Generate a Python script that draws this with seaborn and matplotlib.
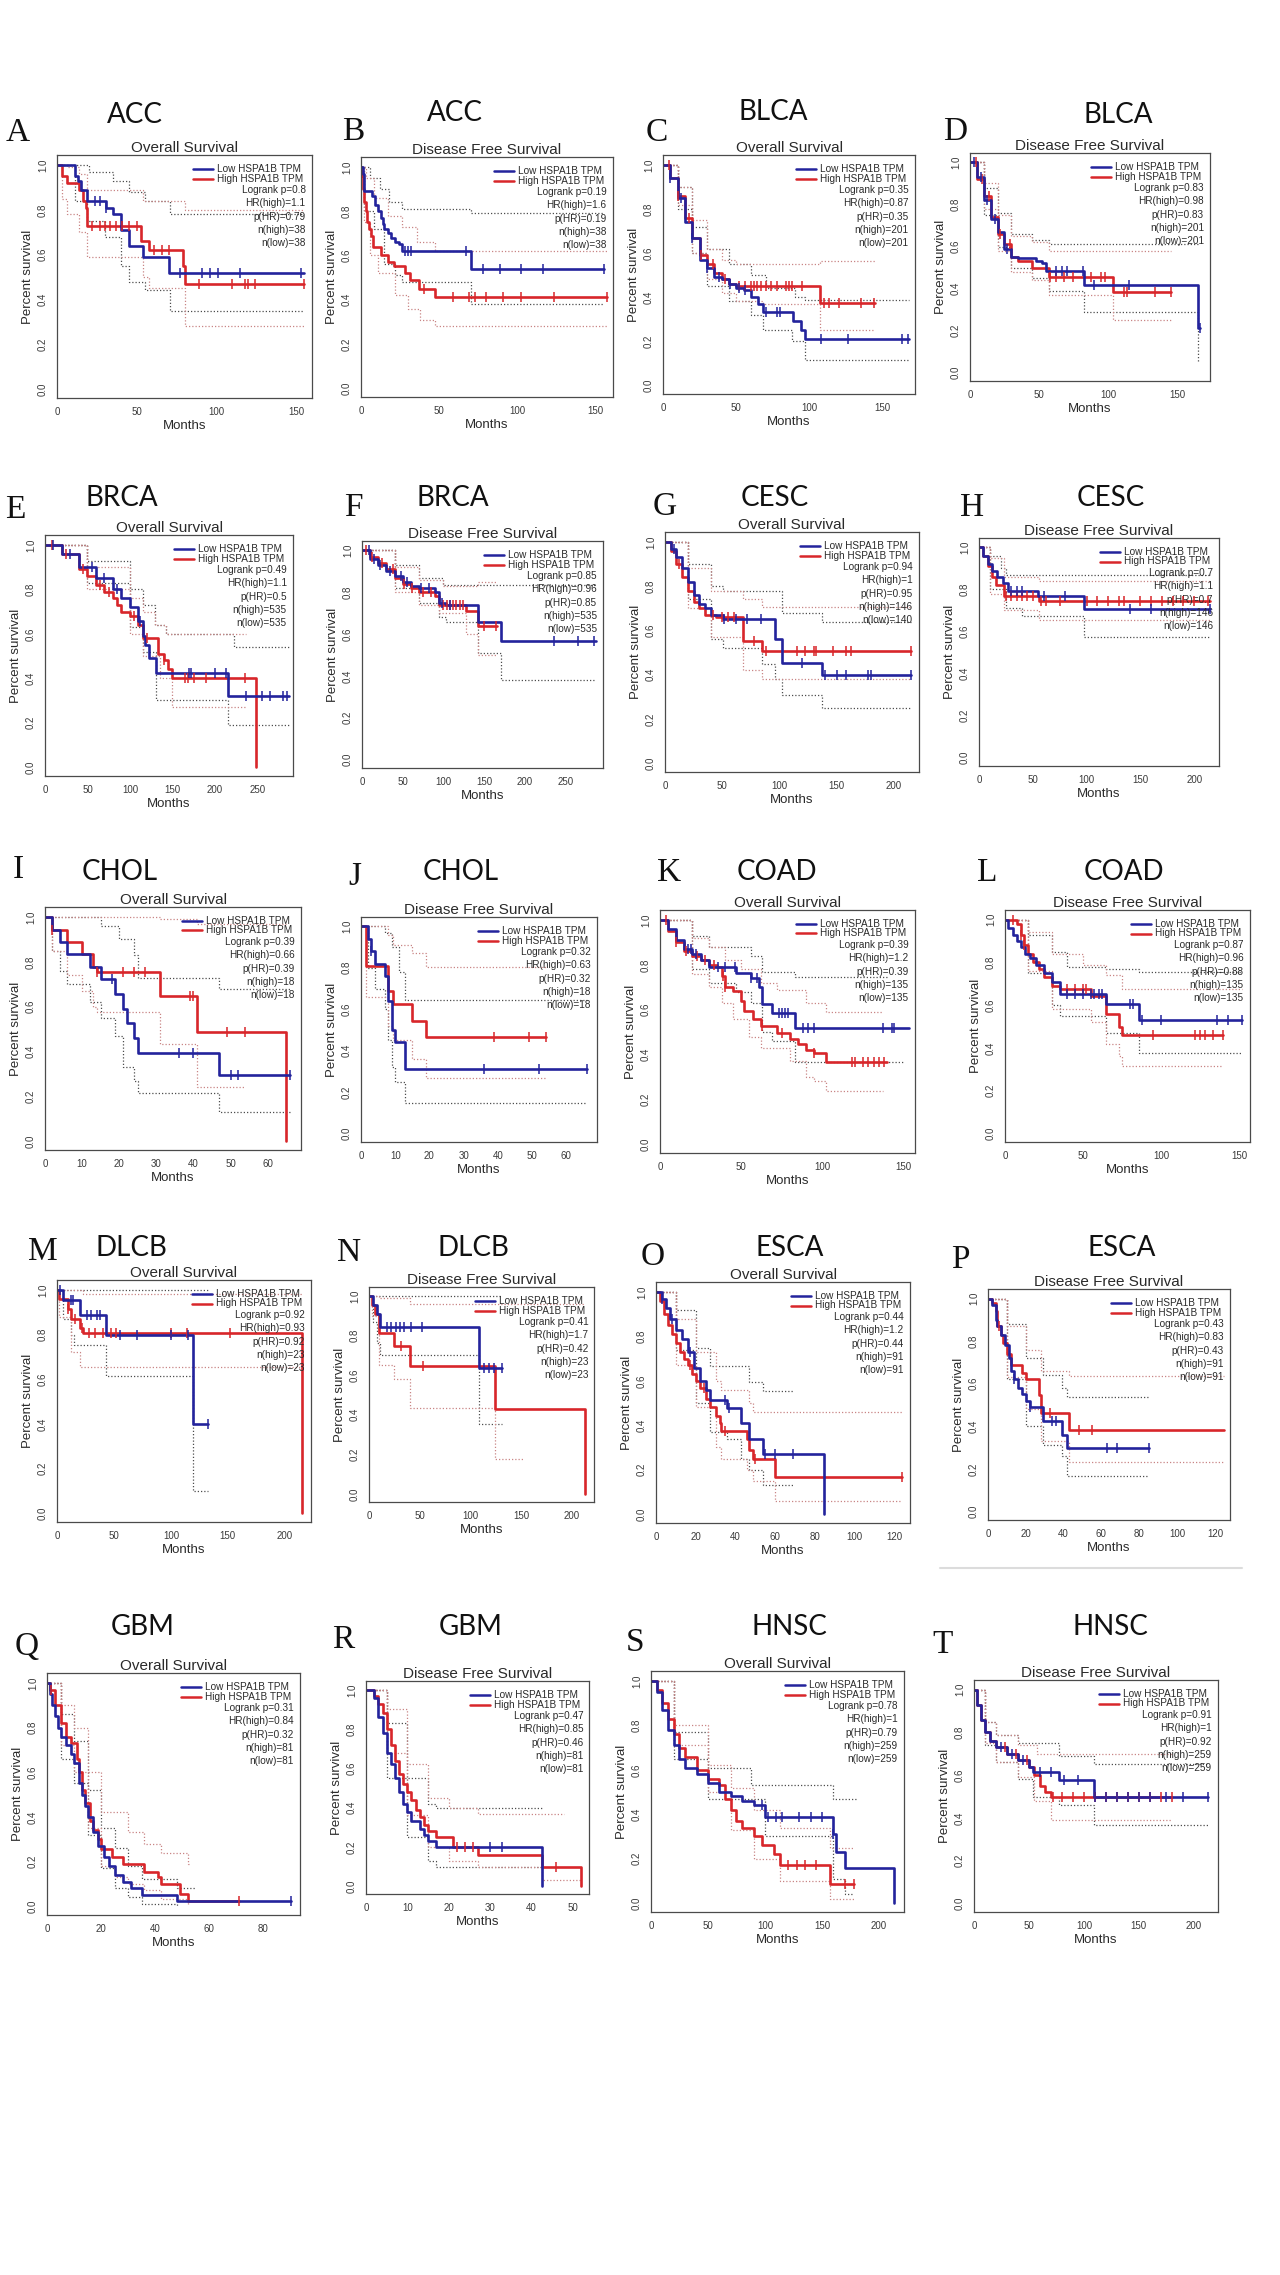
import matplotlib
matplotlib.use("Agg")
import matplotlib.pyplot as plt
import numpy as np
import pandas as pd
import seaborn as sns
from matplotlib.lines import Line2D

# ---------------- panel info ----------------
letters = list("ABCDEFGHIJKLMNOPQRST")
cancers = ["ACC", "ACC", "BLCA", "BLCA", "BRCA", "BRCA", "CESC", "CESC", "CHOL", "CHOL",
           "COAD", "COAD", "DLCB", "DLCB", "ESCA", "ESCA", "GBM", "GBM", "HNSC", "HNSC"]
titles = ["Overall Survival", "Disease Free Survival"] * 10
logrank_p = ["0.8", "0.19", "0.35", "0.83", "0.49", "0.85", "0.94", "0.7", "0.39", "0.32",
             "0.39", "0.87", "0.92", "0.41", "0.44", "0.43", "0.31", "0.47", "0.78", "0.91"]
hr_high = ["1.1", "1.6", "0.87", "0.98", "1.1", "0.96", "1", "1.1", "0.66", "0.63",
           "1.2", "0.96", "0.93", "1.7", "1.2", "0.83", "0.84", "0.85", "1", "1"]
p_hr = ["0.79", "0.19", "0.35", "0.83", "0.5", "0.85", "0.95", "0.7", "0.39", "0.32",
        "0.39", "0.88", "0.92", "0.42", "0.44", "0.43", "0.32", "0.46", "0.79", "0.92"]
n_high = ["38", "38", "201", "201", "535", "535", "146", "146", "18", "18",
          "135", "135", "23", "23", "91", "91", "81", "81", "259", "259"]
n_low = ["38", "38", "201", "201", "535", "535", "140", "146", "18", "18",
         "135", "135", "23", "23", "91", "91", "81", "81", "259", "259"]
x_ticks = [[0, 50, 100, 150], [0, 50, 100, 150], [0, 50, 100, 150], [0, 50, 100, 150],
           [0, 50, 100, 150, 200, 250], [0, 50, 100, 150, 200, 250],
           [0, 50, 100, 150, 200], [0, 50, 100, 150, 200],
           [0, 10, 20, 30, 40, 50, 60], [0, 10, 20, 30, 40, 50, 60],
           [0, 50, 100, 150], [0, 50, 100, 150],
           [0, 50, 100, 150, 200], [0, 50, 100, 150, 200],
           [0, 20, 40, 60, 80, 100, 120], [0, 20, 40, 60, 80, 100, 120],
           [0, 20, 40, 60, 80], [0, 10, 20, 30, 40, 50],
           [0, 50, 100, 150, 200], [0, 50, 100, 150, 200]]
x_max = [160, 161, 172, 174, 292, 296, 222, 223, 69, 69,
         157, 157, 223, 222, 128, 128, 93.5, 54, 222, 222]

# ---------------- curves: (months, survival) step points ----------------
# CI order: low upper, low lower, high upper, high lower
A_low = [(0, 1), (11, 0.95), (13, 0.93), (15, 0.89), (19, 0.84), (31, 0.81), (35, 0.78), (40, 0.71), (45, 0.64), (54, 0.59), (70, 0.52), (155, 0.52)]
A_high = [(0, 1), (3, 0.95), (6, 0.92), (14, 0.89), (16, 0.84), (18, 0.81), (19, 0.73), (53, 0.66), (58, 0.62), (79, 0.55), (80, 0.47), (155, 0.47)]
A_cens_low = [24, 27, 31, 77, 91, 96, 101, 115, 153]
A_cens_high = [22, 27, 30, 33, 37, 41, 45, 50, 61, 66, 70, 89, 110, 118, 120, 124, 155]
A_ci = [[(0, 1), (20, 0.97), (35, 0.93), (45, 0.88), (55, 0.84), (71, 0.78), (155, 0.78)],
        [(0, 1), (11, 0.84), (19, 0.75), (30, 0.68), (40, 0.55), (45, 0.48), (55, 0.44), (71, 0.35), (155, 0.35)],
        [(0, 1), (6, 0.99), (14, 0.96), (19, 0.89), (54, 0.84), (80, 0.8), (155, 0.8)],
        [(0, 1), (3, 0.85), (6, 0.78), (14, 0.7), (19, 0.59), (54, 0.5), (58, 0.45), (80, 0.28), (155, 0.28)]]

B_low = [(0, 1), (1, 0.97), (2, 0.89), (7, 0.87), (9, 0.83), (11, 0.8), (13, 0.77), (14, 0.74), (15, 0.72), (17, 0.7), (19, 0.68), (22, 0.66), (24, 0.65), (26, 0.62), (70, 0.54), (155, 0.54)]
B_high = [(0, 1), (0.5, 0.96), (1, 0.9), (2, 0.84), (3, 0.8), (4, 0.75), (5, 0.72), (6.5, 0.69), (7.5, 0.64), (13, 0.6), (17, 0.57), (21, 0.55), (28, 0.52), (31, 0.49), (37, 0.45), (47, 0.41), (157, 0.41)]
B_cens_low = [28, 30, 32, 67, 78, 89, 102, 116, 155]
B_cens_high = [40, 59, 69, 73, 80, 91, 102, 123, 157]
B_ci = [[(0, 1), (6, 0.95), (12, 0.9), (18, 0.84), (26, 0.81), (70, 0.79), (155, 0.79)],
        [(0, 1), (2, 0.8), (8, 0.72), (15, 0.56), (22, 0.51), (26, 0.48), (70, 0.38), (155, 0.38)],
        [(0, 1), (3, 0.95), (8, 0.86), (17, 0.78), (26, 0.73), (36, 0.66), (47, 0.62), (157, 0.62)],
        [(0, 1), (2, 0.75), (6, 0.6), (11, 0.52), (22, 0.42), (30, 0.36), (38, 0.31), (47, 0.28), (157, 0.28)]]

C_low = [(0, 1), (5, 0.94), (10, 0.85), (15, 0.74), (20, 0.67), (25, 0.57), (30, 0.53), (35, 0.49), (40, 0.48), (45, 0.46), (50, 0.44), (55, 0.43), (60, 0.4), (65, 0.37), (68, 0.33), (89, 0.29), (94, 0.25), (97, 0.21), (168, 0.21)]
C_high = [(0, 1), (5, 0.94), (10, 0.86), (15, 0.76), (20, 0.67), (25, 0.59), (30, 0.55), (35, 0.51), (40, 0.48), (45, 0.46), (50, 0.45), (107, 0.375), (145, 0.375)]
C_cens_low = [5, 12, 20, 30, 38, 46, 52, 56, 70, 78, 80, 108, 126, 163, 167]
C_cens_high = [4, 10, 18, 26, 34, 42, 52, 56, 60, 62, 64, 67, 70, 74, 78, 84, 86, 88, 95, 110, 113, 120, 135, 144]
C_ci = [[(0, 1), (10, 0.9), (20, 0.72), (30, 0.62), (45, 0.55), (60, 0.5), (70, 0.44), (90, 0.4), (97, 0.385), (168, 0.385)],
        [(0, 1), (10, 0.8), (20, 0.6), (30, 0.45), (45, 0.38), (60, 0.32), (68, 0.25), (88, 0.2), (97, 0.115), (168, 0.115)],
        [(0, 1), (10, 0.9), (20, 0.75), (30, 0.62), (40, 0.57), (50, 0.55), (107, 0.565), (145, 0.565)],
        [(0, 1), (10, 0.82), (20, 0.6), (30, 0.48), (40, 0.42), (50, 0.38), (68, 0.37), (107, 0.25), (145, 0.25)]]

D_low = [(0, 1), (5, 0.93), (10, 0.82), (15, 0.73), (20, 0.67), (25, 0.59), (30, 0.55), (35, 0.545), (48, 0.53), (52, 0.52), (55, 0.485), (83, 0.415), (165, 0.21), (167, 0.21)]
D_high = [(0, 1), (5, 0.92), (10, 0.84), (15, 0.74), (20, 0.66), (25, 0.61), (30, 0.55), (35, 0.53), (45, 0.5), (57, 0.455), (104, 0.385), (146, 0.385)]
D_cens_low = [3, 8, 12, 18, 27, 62, 67, 70, 82, 90, 115, 167]
D_cens_high = [4, 9, 14, 22, 29, 58, 62, 68, 75, 88, 95, 98, 112, 114, 134, 146]
D_ci = [[(0, 1), (10, 0.88), (20, 0.76), (30, 0.66), (45, 0.63), (57, 0.61), (165, 0.61)],
        [(0, 1), (10, 0.75), (20, 0.6), (30, 0.5), (45, 0.45), (57, 0.39), (83, 0.29), (165, 0.05), (166, 0.05)],
        [(0, 1), (10, 0.9), (20, 0.75), (30, 0.65), (45, 0.62), (57, 0.58), (146, 0.58)],
        [(0, 1), (10, 0.78), (20, 0.58), (30, 0.48), (45, 0.44), (57, 0.37), (104, 0.25), (146, 0.25)]]

E_low = [(0, 1), (20, 0.96), (40, 0.9), (60, 0.85), (80, 0.8), (90, 0.76), (100, 0.72), (110, 0.66), (115, 0.59), (118, 0.55), (122, 0.49), (131, 0.425), (216, 0.32), (287, 0.32)]
E_high = [(0, 1), (20, 0.96), (40, 0.89), (50, 0.86), (60, 0.82), (70, 0.79), (80, 0.76), (85, 0.73), (90, 0.7), (100, 0.68), (110, 0.64), (115, 0.58), (133, 0.51), (140, 0.48), (145, 0.44), (150, 0.4), (248, 0.0)]
E_cens_low = [10, 30, 55, 70, 85, 112, 170, 172, 200, 213, 237, 255, 265, 280, 285]
E_cens_high = [8, 25, 45, 65, 75, 105, 120, 140, 165, 168, 175, 190, 235]
E_ci = [[(0, 1), (50, 0.93), (100, 0.8), (115, 0.73), (130, 0.64), (143, 0.6), (222, 0.54), (287, 0.54)],
        [(0, 1), (50, 0.83), (100, 0.63), (115, 0.52), (131, 0.3), (216, 0.19), (287, 0.19)],
        [(0, 1), (50, 0.9), (100, 0.76), (115, 0.7), (130, 0.64), (143, 0.6), (237, 0.6)],
        [(0, 1), (50, 0.8), (100, 0.6), (115, 0.5), (135, 0.4), (150, 0.27), (237, 0.27)]]

F_low = [(0, 1), (10, 0.96), (20, 0.93), (30, 0.9), (40, 0.88), (50, 0.85), (60, 0.83), (70, 0.82), (90, 0.8), (95, 0.75), (103, 0.74), (142, 0.66), (171, 0.565), (287, 0.565)]
F_high = [(0, 1), (10, 0.97), (20, 0.94), (30, 0.91), (40, 0.87), (50, 0.84), (60, 0.82), (70, 0.8), (90, 0.78), (95, 0.74), (128, 0.71), (142, 0.64), (166, 0.64)]
F_cens_low = [8, 15, 22, 35, 48, 55, 72, 82, 98, 108, 236, 265, 285]
F_cens_high = [5, 12, 25, 38, 52, 62, 75, 85, 100, 104, 108, 112, 116, 120, 124, 150, 165]
F_ci = [[(0, 1), (40, 0.93), (70, 0.87), (100, 0.835), (287, 0.835)],
        [(0, 1), (40, 0.82), (70, 0.75), (95, 0.68), (103, 0.66), (142, 0.51), (171, 0.38), (287, 0.38)],
        [(0, 1), (40, 0.92), (70, 0.86), (100, 0.83), (142, 0.85), (166, 0.85)],
        [(0, 1), (40, 0.8), (70, 0.74), (95, 0.7), (128, 0.6), (142, 0.5), (166, 0.5)]]

G_low = [(0, 1), (5, 0.97), (10, 0.93), (15, 0.88), (20, 0.82), (25, 0.76), (30, 0.72), (35, 0.7), (40, 0.67), (51, 0.65), (96, 0.56), (102, 0.455), (137, 0.397), (215, 0.397)]
G_high = [(0, 1), (5, 0.96), (10, 0.9), (15, 0.84), (20, 0.78), (25, 0.73), (30, 0.7), (35, 0.67), (45, 0.66), (68, 0.55), (85, 0.506), (215, 0.506)]
G_cens_low = [8, 52, 62, 72, 84, 120, 140, 150, 158, 177, 180, 215]
G_cens_high = [12, 42, 50, 55, 60, 78, 88, 115, 122, 130, 132, 147, 158, 163, 215]
G_ci = [[(0, 1), (20, 0.9), (40, 0.8), (51, 0.78), (102, 0.68), (137, 0.64), (215, 0.64)],
        [(0, 1), (20, 0.74), (40, 0.56), (51, 0.52), (85, 0.45), (96, 0.38), (102, 0.31), (137, 0.25), (215, 0.25)],
        [(0, 1), (20, 0.88), (40, 0.78), (68, 0.74), (85, 0.706), (215, 0.706)],
        [(0, 1), (20, 0.7), (40, 0.57), (68, 0.42), (85, 0.38), (215, 0.38)]]

H_low = [(0, 1), (4, 0.96), (8, 0.92), (12, 0.89), (17, 0.86), (22, 0.83), (27, 0.795), (55, 0.77), (98, 0.705), (215, 0.705)]
H_high = [(0, 1), (4, 0.96), (8, 0.91), (12, 0.86), (16, 0.82), (23, 0.77), (56, 0.745), (215, 0.745)]
H_cens_low = [30, 35, 40, 60, 80, 140, 160, 215]
H_cens_high = [25, 30, 35, 40, 45, 50, 58, 62, 75, 100, 110, 120, 130, 135, 150, 160, 170, 180, 190, 200, 213]
H_ci = [[(0, 1), (10, 0.96), (20, 0.9), (25, 0.87), (215, 0.87)],
        [(0, 1), (10, 0.8), (25, 0.71), (40, 0.675), (98, 0.575), (215, 0.575)],
        [(0, 1), (10, 0.95), (23, 0.86), (56, 0.84), (215, 0.84)],
        [(0, 1), (10, 0.78), (23, 0.7), (56, 0.655), (215, 0.655)]]

I_low = [(0, 1), (2, 0.944), (4, 0.889), (6, 0.833), (12, 0.778), (15, 0.722), (19, 0.656), (21, 0.59), (22, 0.525), (24, 0.46), (25, 0.395), (47, 0.296), (66, 0.296)]
I_high = [(0, 1), (2, 0.944), (6, 0.889), (10, 0.833), (13, 0.778), (14, 0.755), (31, 0.647), (41, 0.485), (65, 0.0)]
I_cens_low = [18, 36, 40, 50, 52, 66]
I_cens_high = [2, 14, 21, 24, 27, 39, 40, 49, 54]
I_ci = [[(0, 1), (15, 0.96), (20, 0.9), (24, 0.83), (25, 0.73), (47, 0.68), (66, 0.68)],
        [(0, 1), (2, 0.85), (4, 0.76), (6, 0.7), (12, 0.62), (15, 0.55), (19, 0.47), (21, 0.33), (24, 0.27), (25, 0.215), (47, 0.13), (66, 0.13)],
        [(0, 1), (31, 0.99), (41, 0.97), (65, 0.97)],
        [(0, 1), (2, 0.85), (6, 0.74), (10, 0.67), (13, 0.6), (14, 0.575), (31, 0.434), (41, 0.24), (54, 0.24)]]

J_low = [(0, 1), (2, 0.94), (3, 0.88), (4, 0.82), (7, 0.76), (8, 0.64), (9, 0.5), (10, 0.44), (13, 0.31), (66, 0.31)]
J_high = [(0, 1), (1.5, 0.81), (8, 0.69), (9.5, 0.625), (15, 0.545), (19, 0.466), (54, 0.466)]
J_cens_low = [3, 36, 52, 66]
J_cens_high = [39, 49, 54]
J_ci = [[(0, 1), (7, 0.97), (9, 0.9), (11, 0.78), (13, 0.645), (66, 0.645)],
        [(0, 1), (2, 0.8), (4, 0.7), (7, 0.6), (8, 0.45), (9, 0.32), (10, 0.25), (13, 0.15), (66, 0.15)],
        [(0, 1), (8, 0.96), (9.5, 0.91), (15, 0.87), (19, 0.805), (54, 0.805)],
        [(0, 1), (1.5, 0.66), (8, 0.52), (9.5, 0.45), (15, 0.36), (19, 0.27), (54, 0.27)]]

K_low = [(0, 1), (5, 0.96), (10, 0.91), (15, 0.87), (20, 0.85), (25, 0.82), (30, 0.79), (47, 0.765), (56, 0.74), (61, 0.7), (63, 0.627), (69, 0.585), (83, 0.52), (153, 0.52)]
K_high = [(0, 1), (5, 0.95), (10, 0.9), (15, 0.86), (20, 0.84), (25, 0.82), (30, 0.8), (35, 0.79), (38, 0.75), (40, 0.703), (45, 0.685), (50, 0.64), (52, 0.595), (57, 0.56), (62, 0.525), (72, 0.498), (80, 0.47), (85, 0.445), (90, 0.42), (95, 0.405), (102, 0.367), (140, 0.367)]
K_cens_low = [17, 19, 22, 36, 40, 46, 56, 60, 73, 75, 77, 79, 88, 91, 95, 137, 143, 144]
K_cens_high = [4, 10, 16, 23, 28, 33, 39, 40, 63, 75, 95, 118, 120, 125, 128, 132, 135, 138]
K_ci = [[(0, 1), (20, 0.93), (30, 0.88), (56, 0.84), (63, 0.77), (83, 0.745), (140, 0.745)],
        [(0, 1), (20, 0.78), (30, 0.72), (47, 0.68), (56, 0.63), (63, 0.5), (69, 0.46), (83, 0.365), (150, 0.365)],
        [(0, 1), (20, 0.92), (30, 0.88), (40, 0.82), (50, 0.78), (62, 0.72), (72, 0.69), (90, 0.63), (102, 0.59), (137, 0.59)],
        [(0, 1), (20, 0.76), (30, 0.7), (38, 0.63), (45, 0.56), (55, 0.48), (62, 0.43), (80, 0.37), (90, 0.3), (95, 0.28), (102, 0.235), (137, 0.235)]]

L_low = [(0, 1), (2, 0.96), (5, 0.93), (8, 0.9), (10, 0.87), (13, 0.84), (16, 0.82), (20, 0.79), (25, 0.75), (30, 0.71), (35, 0.65), (65, 0.607), (86, 0.529), (152, 0.529)]
L_high = [(0, 1), (8, 0.98), (10, 0.93), (12, 0.88), (15, 0.84), (18, 0.8), (22, 0.77), (25, 0.73), (30, 0.69), (35, 0.677), (55, 0.645), (65, 0.56), (73, 0.5), (75, 0.459), (140, 0.459)]
L_cens_low = [40, 45, 50, 55, 57, 60, 62, 80, 82, 88, 100, 136, 143, 152]
L_cens_high = [5, 10, 12, 40, 45, 50, 52, 95, 122, 125, 128, 133, 140]
L_ci = [[(0, 1), (15, 0.93), (30, 0.85), (40, 0.78), (65, 0.77), (86, 0.755), (152, 0.755)],
        [(0, 1), (15, 0.75), (30, 0.6), (35, 0.55), (65, 0.47), (86, 0.376), (152, 0.376)],
        [(0, 1), (15, 0.94), (30, 0.84), (50, 0.79), (65, 0.74), (75, 0.677), (152, 0.677)],
        [(0, 1), (15, 0.76), (30, 0.58), (55, 0.52), (65, 0.42), (73, 0.36), (75, 0.314), (140, 0.314)]]

M_low = [(0, 1), (5, 0.955), (20, 0.888), (43, 0.798), (119, 0.4), (133, 0.4)]
M_high = [(0, 1), (2, 0.96), (10, 0.913), (12, 0.87), (20, 0.83), (23, 0.806), (215, 0.0)]
M_cens_low = [3, 12, 14, 26, 30, 35, 38, 55, 70, 100, 115, 133]
M_cens_high = [10, 16, 22, 28, 33, 40, 47, 52, 100, 114, 152]
M_ci = [[(0, 1), (119, 1.0), (133, 1.0)],
        [(0, 1), (5, 0.87), (12, 0.8), (15, 0.755), (43, 0.615), (119, 0.097), (133, 0.097)],
        [(0, 1), (23, 0.98), (215, 0.98)],
        [(0, 1), (2, 0.88), (12, 0.72), (20, 0.653), (215, 0.653)]]

N_low = [(0, 1), (4, 0.955), (8, 0.91), (11, 0.843), (109, 0.637), (131, 0.637)]
N_high = [(0, 1), (3, 0.955), (6, 0.91), (10, 0.815), (25, 0.747), (40, 0.644), (124, 0.43), (213, 0.0)]
N_cens_low = [18, 22, 27, 31, 35, 41, 52, 113, 118, 123, 131]
N_cens_high = [32, 53]
N_ci = [[(0, 1), (131, 1.0)],
        [(0, 1), (4, 0.87), (8, 0.76), (11, 0.7), (109, 0.354), (131, 0.354)],
        [(0, 1), (10, 0.99), (40, 0.96), (213, 0.96)],
        [(0, 1), (3, 0.9), (10, 0.65), (25, 0.58), (40, 0.435), (124, 0.177), (153, 0.177)]]

O_low = [(0, 1), (3, 0.97), (5, 0.93), (7, 0.88), (10, 0.83), (13, 0.79), (16, 0.73), (19, 0.66), (22, 0.6), (25, 0.56), (27, 0.514), (36, 0.477), (43, 0.41), (47, 0.34), (54, 0.272), (84.5, 0.0)]
O_high = [(0, 1), (2, 0.96), (4, 0.9), (6, 0.85), (8, 0.81), (10, 0.77), (12, 0.73), (14, 0.7), (16, 0.67), (18, 0.63), (20, 0.6), (22, 0.57), (25, 0.52), (27, 0.48), (30, 0.44), (32, 0.41), (33, 0.376), (46, 0.34), (47, 0.29), (49, 0.248), (60, 0.166), (124, 0.166)]
O_cens_low = [3, 8, 17, 35, 37, 55, 60, 69]
O_cens_high = [17, 24, 35, 50, 124]
O_ci = [[(0, 1), (10, 0.92), (20, 0.75), (27, 0.665), (47, 0.593), (54, 0.553), (69, 0.553)],
        [(0, 1), (10, 0.74), (20, 0.5), (27, 0.37), (36, 0.34), (43, 0.25), (47, 0.2), (54, 0.13), (69, 0.13)],
        [(0, 1), (10, 0.88), (20, 0.73), (30, 0.6), (33, 0.56), (47, 0.5), (49, 0.459), (124, 0.459)],
        [(0, 1), (10, 0.67), (20, 0.48), (30, 0.3), (33, 0.25), (46, 0.2), (49, 0.15), (60, 0.058), (124, 0.058)]]

P_low = [(0, 1), (2, 0.97), (4, 0.9), (5, 0.87), (7, 0.83), (9, 0.78), (11, 0.72), (12, 0.66), (14, 0.62), (16, 0.58), (18, 0.55), (20, 0.52), (22, 0.492), (29, 0.426), (39, 0.36), (42, 0.3), (85, 0.3)]
P_high = [(0, 1), (2, 0.98), (4, 0.94), (5, 0.87), (7, 0.83), (8, 0.79), (10, 0.74), (12, 0.686), (18, 0.65), (20, 0.62), (27, 0.545), (28, 0.461), (43, 0.384), (125, 0.384)]
P_cens_low = [14, 22, 34, 36, 63, 68, 85]
P_cens_high = [6, 33, 48, 55]
P_ci = [[(0, 1), (10, 0.88), (20, 0.72), (29, 0.64), (39, 0.58), (42, 0.54), (85, 0.54)],
        [(0, 1), (10, 0.62), (20, 0.4), (29, 0.31), (39, 0.26), (42, 0.167), (85, 0.167)],
        [(0, 1), (10, 0.87), (20, 0.76), (28, 0.66), (43, 0.636), (125, 0.636)],
        [(0, 1), (10, 0.63), (20, 0.48), (28, 0.33), (43, 0.232), (125, 0.232)]]

Q_low = [(0, 1), (1, 0.95), (2, 0.9), (3, 0.85), (4, 0.8), (5, 0.76), (7, 0.72), (9, 0.68), (10, 0.64), (12, 0.55), (13, 0.5), (14, 0.45), (15, 0.4), (17, 0.33), (19, 0.27), (21, 0.22), (23, 0.18), (25, 0.14), (28, 0.11), (31, 0.08), (35, 0.048), (48, 0.025), (90, 0.025)]
Q_high = [(0, 1), (1, 0.97), (3, 0.9), (5, 0.82), (7, 0.76), (9, 0.73), (11, 0.66), (12, 0.6), (13, 0.52), (14, 0.46), (16, 0.38), (17, 0.34), (19, 0.3), (20, 0.255), (24, 0.22), (28, 0.19), (36, 0.155), (41, 0.13), (42, 0.1), (49, 0.055), (52, 0.025), (71, 0.025)]
Q_cens_low = [90]
Q_cens_high = [1.5, 71]
Q_ci = [[(0, 1), (5, 0.86), (10, 0.74), (15, 0.52), (20, 0.35), (25, 0.26), (30, 0.18), (35, 0.12), (48, 0.08), (55, 0.08)],
        [(0, 1), (5, 0.66), (10, 0.55), (15, 0.32), (20, 0.17), (25, 0.08), (30, 0.04), (35, 0.01), (48, 0.0)],
        [(0, 1), (5, 0.9), (10, 0.8), (15, 0.6), (20, 0.42), (30, 0.33), (36, 0.28), (42, 0.24), (52, 0.19), (53, 0.19)],
        [(0, 1), (5, 0.72), (10, 0.6), (15, 0.35), (20, 0.18), (25, 0.13), (30, 0.1), (36, 0.07), (42, 0.03), (52, 0.0)]]

R_low = [(0, 1), (2, 0.96), (3, 0.86), (4, 0.78), (5, 0.68), (6, 0.62), (7, 0.55), (8, 0.48), (9, 0.42), (10, 0.38), (11, 0.33), (13, 0.29), (14, 0.26), (15, 0.23), (17, 0.2), (42.7, 0.0)]
R_high = [(0, 1), (2, 0.97), (3, 0.93), (4, 0.88), (5, 0.8), (6, 0.72), (7, 0.64), (8, 0.57), (9, 0.52), (10, 0.48), (11, 0.44), (12, 0.39), (13, 0.35), (14, 0.31), (15, 0.28), (17, 0.25), (21, 0.2), (27, 0.16), (42.7, 0.1), (52, 0.0)]
R_cens_low = [30, 33]
R_cens_high = [22, 24, 26, 46]
R_ci = [[(0, 1), (5, 0.83), (10, 0.55), (15, 0.42), (17, 0.4), (42.7, 0.4)],
        [(0, 1), (5, 0.55), (10, 0.25), (15, 0.13), (17, 0.1), (42.7, 0.08)],
        [(0, 1), (5, 0.9), (10, 0.62), (15, 0.45), (20, 0.4), (27, 0.367), (48, 0.367)],
        [(0, 1), (5, 0.68), (10, 0.36), (15, 0.2), (20, 0.13), (27, 0.1), (42.7, 0.03), (52, 0.03)]]

S_low = [(0, 1), (5, 0.95), (10, 0.87), (15, 0.78), (20, 0.71), (25, 0.65), (30, 0.61), (40, 0.58), (50, 0.54), (60, 0.5), (70, 0.48), (80, 0.46), (90, 0.44), (100, 0.387), (160, 0.31), (162, 0.23), (170, 0.156), (213, 0.0)]
S_high = [(0, 1), (5, 0.96), (10, 0.9), (15, 0.83), (20, 0.76), (25, 0.7), (30, 0.66), (40, 0.6), (50, 0.56), (60, 0.53), (65, 0.47), (70, 0.42), (75, 0.37), (80, 0.34), (90, 0.3), (97, 0.26), (108, 0.22), (113, 0.17), (157, 0.086), (178, 0.086)]
S_cens_low = [97, 103, 110, 115, 130, 140, 150, 160]
S_cens_high = [120, 128, 135, 145, 170, 178]
S_ci = [[(0, 1), (20, 0.77), (50, 0.61), (88, 0.53), (160, 0.47), (180, 0.47)],
        [(0, 1), (20, 0.65), (50, 0.47), (100, 0.3), (160, 0.11), (170, 0.04), (178, 0.04)],
        [(0, 1), (20, 0.8), (50, 0.62), (70, 0.52), (90, 0.42), (113, 0.34), (157, 0.25), (178, 0.25)],
        [(0, 1), (20, 0.71), (50, 0.5), (70, 0.33), (90, 0.2), (113, 0.1), (157, 0.02), (178, 0.02)]]

T_low = [(0, 1), (3, 0.93), (6, 0.86), (10, 0.8), (15, 0.76), (20, 0.73), (30, 0.7), (40, 0.67), (50, 0.64), (54, 0.613), (77, 0.575), (109, 0.5), (213, 0.5)]
T_high = [(0, 1), (3, 0.93), (6, 0.86), (10, 0.8), (15, 0.76), (20, 0.73), (30, 0.7), (40, 0.67), (50, 0.64), (55, 0.6), (60, 0.55), (65, 0.52), (70, 0.5), (180, 0.5)]
T_cens_low = [25, 35, 45, 60, 70, 82, 95, 110, 120, 130, 140, 150, 160, 175, 190, 213]
T_cens_high = [28, 38, 48, 72, 80, 90, 100, 110, 120, 130, 140, 150, 160, 170, 180]
T_ci = [[(0, 1), (10, 0.85), (20, 0.79), (40, 0.75), (77, 0.69), (109, 0.65), (213, 0.65)],
        [(0, 1), (10, 0.74), (20, 0.66), (40, 0.58), (54, 0.5), (77, 0.46), (109, 0.367), (213, 0.367)],
        [(0, 1), (10, 0.85), (20, 0.79), (40, 0.74), (57, 0.7), (180, 0.7)],
        [(0, 1), (10, 0.75), (20, 0.66), (40, 0.59), (55, 0.48), (70, 0.39), (180, 0.39)]]

panels = [
    (A_low, A_high, A_cens_low, A_cens_high, A_ci), (B_low, B_high, B_cens_low, B_cens_high, B_ci),
    (C_low, C_high, C_cens_low, C_cens_high, C_ci), (D_low, D_high, D_cens_low, D_cens_high, D_ci),
    (E_low, E_high, E_cens_low, E_cens_high, E_ci), (F_low, F_high, F_cens_low, F_cens_high, F_ci),
    (G_low, G_high, G_cens_low, G_cens_high, G_ci), (H_low, H_high, H_cens_low, H_cens_high, H_ci),
    (I_low, I_high, I_cens_low, I_cens_high, I_ci), (J_low, J_high, J_cens_low, J_cens_high, J_ci),
    (K_low, K_high, K_cens_low, K_cens_high, K_ci), (L_low, L_high, L_cens_low, L_cens_high, L_ci),
    (M_low, M_high, M_cens_low, M_cens_high, M_ci), (N_low, N_high, N_cens_low, N_cens_high, N_ci),
    (O_low, O_high, O_cens_low, O_cens_high, O_ci), (P_low, P_high, P_cens_low, P_cens_high, P_ci),
    (Q_low, Q_high, Q_cens_low, Q_cens_high, Q_ci), (R_low, R_high, R_cens_low, R_cens_high, R_ci),
    (S_low, S_high, S_cens_low, S_cens_high, S_ci), (T_low, T_high, T_cens_low, T_cens_high, T_ci),
]

# ---------------- layout (pixels: left, top, right, bottom) ----------------
axes_px = [(57, 155, 312, 398), (361, 157, 613, 397), (663, 155, 915, 394), (970, 153, 1210, 381),
           (45, 535, 293, 776), (362, 541, 603, 768), (665, 532, 919, 772), (979, 538, 1219, 766),
           (45, 907, 301, 1150), (361, 917, 597, 1142), (660, 910, 915, 1153), (1005, 910, 1250, 1142),
           (57, 1280, 311, 1522), (369, 1287, 594, 1502), (656, 1282, 910, 1523), (988, 1289, 1230, 1520),
           (47, 1673, 300, 1915), (366, 1681, 589, 1894), (651, 1671, 904, 1912), (974, 1680, 1218, 1912)]
letter_px = [(18, 133), (353, 132), (657, 133), (955, 132), (15, 510), (353, 508), (665, 507), (972, 508),
             (18, 870), (355, 877), (669, 873), (987, 873), (43, 1252), (349, 1253), (653, 1257), (960, 1260),
             (27, 1647), (343, 1640), (635, 1643), (943, 1645)]
cancer_px = [(135, 115), (455, 113), (773, 112), (1118, 115), (122, 498), (453, 498), (775, 498), (1111, 498),
             (120, 872), (461, 872), (777, 872), (1124, 872), (131, 1248), (473, 1248), (790, 1248), (1122, 1248),
             (143, 1627), (471, 1627), (789, 1627), (1110, 1627)]

LOW_C, HIGH_C = "#23239c", "#d8262a"
CI_LOW_C, CI_HIGH_C = "#4d4d4d", "#c98585"
W, H = 1280, 2275

sns.set_style("white")
plt.rcParams["font.family"] = ["Liberation Sans", "DejaVu Sans"]


def step_at(steps, t):
    ts = np.array([p[0] for p in steps])
    i = max(np.searchsorted(ts, t, side="right") - 1, 0)
    return steps[i][1]


def draw_steps(ax, steps, color, lw, ls="-"):
    df = pd.DataFrame(steps, columns=["t", "s"])
    sns.lineplot(data=df, x="t", y="s", ax=ax, color=color, linewidth=lw, linestyle=ls,
                 drawstyle="steps-post", estimator=None, sort=False, legend=False)


fig = plt.figure(figsize=(12.8, 22.75), dpi=100)

for i in range(20):
    low, high, c_low, c_high, ci = panels[i]
    l, t, r, b = axes_px[i]
    w, h = r - l, b - t
    ax = fig.add_axes([l / W, 1 - b / H, w / W, h / H])

    dot = (0, (1, 1.6))
    for k, line in enumerate(ci):
        draw_steps(ax, line, CI_LOW_C if k < 2 else CI_HIGH_C, 0.9, dot)
    draw_steps(ax, high, HIGH_C, 1.9)
    draw_steps(ax, low, LOW_C, 1.9)
    for cens, steps, col in [(c_high, high, HIGH_C), (c_low, low, LOW_C)]:
        sns.scatterplot(x=cens, y=[step_at(steps, c) for c in cens], ax=ax, marker="|",
                        s=50, color=col, linewidth=1.1, legend=False, zorder=4)

    ax.set_xlim(0, x_max[i])
    ax.set_ylim(-0.04, 1.045)
    ax.set_xticks(x_ticks[i])
    ax.set_xticklabels([str(v) for v in x_ticks[i]])
    ax.set_yticks([0, 0.2, 0.4, 0.6, 0.8, 1.0])
    ax.set_yticklabels(["0.0", "0.2", "0.4", "0.6", "0.8", "1.0"])
    ax.tick_params(length=4, width=0.8, color="#444444", labelsize=7, labelcolor="#3a3a3a", pad=2.5)
    for lab in ax.get_yticklabels():
        lab.set_rotation(90)
        lab.set_va("center")
    for sp in ax.spines.values():
        sp.set_visible(True)
        sp.set_color("#4a4a4a")
        sp.set_linewidth(0.9)
    ax.set_xlabel("Months", fontsize=9.5, color="#2a2a2a", labelpad=2)
    ax.set_ylabel("Percent survival", fontsize=9.5, color="#2a2a2a", labelpad=3)
    ax.set_title(titles[i], fontsize=11, color="#2a2a2a", pad=2.5)

    # legend block, anchored to the top-right corner of the plot box
    R = 0.975

    def fx(px):
        return R - px / w

    def fy(py):
        return 1 - py / h

    for k, (lab, col) in enumerate([("Low HSPA1B TPM", LOW_C), ("High HSPA1B TPM", HIGH_C)]):
        yy = fy(14 + 9.5 * k)
        ax.add_line(Line2D([fx(113), fx(93)], [yy, yy], transform=ax.transAxes, color=col, lw=1.8))
        ax.text(fx(89), yy, lab, transform=ax.transAxes, ha="left", va="center",
                fontsize=7.2, color="#2a2a2a")
    stats = [f"Logrank p={logrank_p[i]}", f"HR(high)={hr_high[i]}", f"p(HR)={p_hr[i]}",
             f"n(high)={n_high[i]}", f"n(low)={n_low[i]}"]
    for k, s in enumerate(stats):
        ax.text(R, fy(35 + 13.3 * k), s, transform=ax.transAxes, ha="right", va="center",
                fontsize=7.2, color="#2a2a2a")

    lx, ly = letter_px[i]
    fig.text(lx / W, 1 - ly / H, letters[i], ha="center", va="center", fontsize=24,
             family=["Liberation Serif", "DejaVu Serif"], color="#111111")
    cx, cy = cancer_px[i]
    fig.text(cx / W, 1 - cy / H, cancers[i], ha="center", va="center", fontsize=20,
             family=["Lato", "DejaVu Sans"], color="#111111")

# faint rule under panel P, as in the source figure
fig.add_artist(Line2D([940 / W, 1242 / W], [1 - 1568 / H, 1 - 1568 / H], color="#dcdcdc", lw=1.5))

fig.savefig("out.png", dpi=100)
